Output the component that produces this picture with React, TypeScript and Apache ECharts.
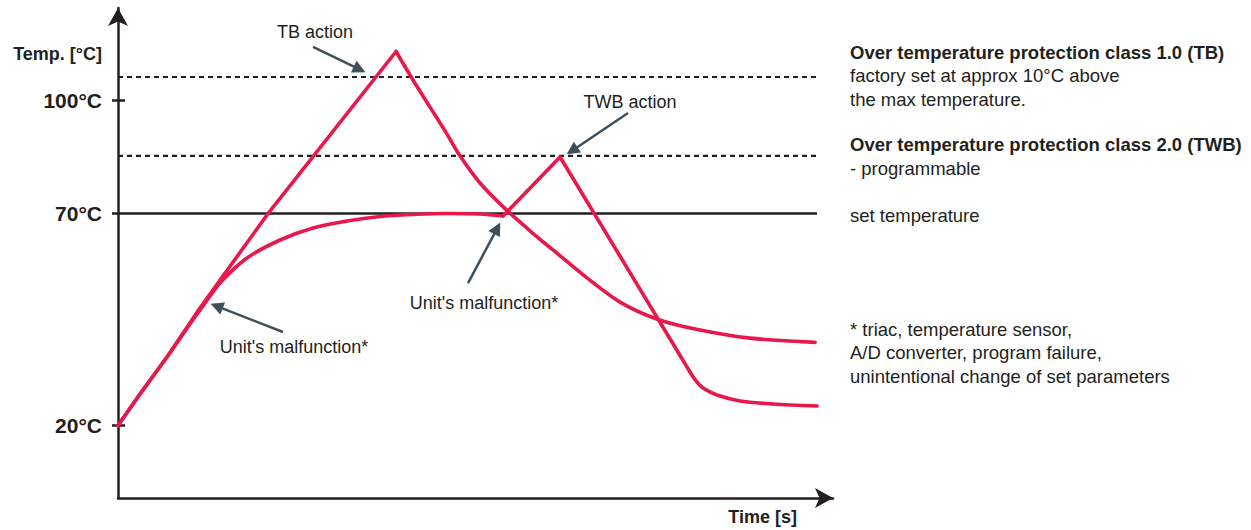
import React, { useEffect, useRef } from "react";
import * as echarts from "echarts";

// ---- data (schematic time units on x, temperature-like units on y) ----
const xMin = 0;
const xMax = 101.27;
const yMin = 2.9;
const yMax = 118.47;

const yTickValues = [20, 70, 96.7];
const yTickLabels = ["20°C", "70°C", "100°C"];
const innerTickValues = [20, 96.7];

const setTemperature = 70;
const tbLimit = 102.2;
const twbLimit = 83.6;
const lineEndX = 99;

// TB path: rise (straight) then cooling after TB action
const tbRise = [
  [0, 20], [3.12, 27.43], [6.94, 36.16], [11.61, 47.71], [21.1, 69.65], [39.38, 108.21],
];
const tbFall = [
  [39.38, 108.21], [41.78, 101.5], [44.19, 95.1], [46.32, 89.5], [48.44, 83.6],
  [51.27, 77.2], [55.24, 70.5], [59.35, 64.5], [61.61, 61.4], [66.43, 54.8],
  [71.1, 49.1], [76.49, 45.0], [82.44, 42.5], [89.52, 40.6], [98.73, 39.6],
];

// TWB path: approach to set temperature, malfunction, TWB action, cooling
const twbApproach = [
  [0, 20], [3.12, 27.43], [6.94, 36.16], [10.2, 43.94], [12.04, 48.18], [14.45, 53.61],
  [18.27, 59.5], [22.95, 63.75], [27.62, 66.58], [32.44, 68.23], [37.11, 69.29],
  [41.78, 69.76], [46.6, 70.0], [51.27, 69.88], [54.53, 69.41],
];
const twbSpike = [[54.53, 69.41], [62.61, 83.33], [81.02, 32.62]];
const twbTail = [
  [81.02, 32.62], [81.87, 30.5], [82.86, 28.84], [84.84, 27.19], [88.1, 25.78],
  [92.78, 25.07], [99.01, 24.6],
];

// annotation arrows: [from, to]
const arrowLines = [
  [[27.62, 109.3], [34.22, 103.98]],
  [[72.24, 93.7], [64.31, 84.82]],
  [[23.37, 42.05], [13.97, 48.14]],
  [[49.58, 53.6], [53.71, 66.51]],
];

const annotationTexts = ["TB action", "TWB action", "Unit's malfunction*", "Unit's malfunction*"];
const sideTexts = [
  "Over temperature protection class 1.0 (TB)",
  "factory set at approx 10°C above",
  "the max temperature.",
  "Over temperature protection class 2.0 (TWB)",
  "- programmable",
  "set temperature",
  "* triac, temperature sensor,",
  "A/D converter, program failure,",
  "unintentional change of set parameters",
];
const yAxisName = "Temp. [°C]";
const xAxisName = "Time [s]";

const RED = "#e8184d";
const INK = "#231f20";
const ARROW = "#3e4f5a";
const FONT = '"Liberation Sans", Arial, sans-serif';

function txt(text: string, x: number, y: number, opts: any = {}) {
  const align = opts.align || "left";
  const weight = opts.bold ? "bold" : "normal";
  const size = opts.size || 18;
  return {
    type: "text",
    x,
    y,
    silent: true,
    style: {
      text,
      fill: opts.color || INK,
      font: `${weight} ${size}px ${FONT}`,
      align,
      textAlign: align,
      verticalAlign: "middle",
      textVerticalAlign: "middle",
    },
  };
}

export default function App() {
  const ref = useRef<HTMLDivElement>(null);

  useEffect(() => {
    if (!ref.current) return;
    const chart = echarts.init(ref.current, undefined, { renderer: "svg" });

    const redLine = (data: number[][], smooth: boolean) => ({
      type: "line",
      data,
      symbol: "none",
      smooth: smooth ? 0.3 : false,
      z: 5,
      lineStyle: { color: RED, width: 3.6, cap: "round", join: "round" },
      itemStyle: { color: RED },
      silent: true,
    });

    const hLine = (y: number, dashed: boolean, width: number) => ({
      type: "line",
      data: [[xMin, y], [lineEndX, y]],
      symbol: "none",
      z: 3,
      lineStyle: { color: INK, width, type: dashed ? [5, 4] : "solid" },
      silent: true,
    });

    const rightX = 850;
    const sideY = [52, 75.5, 99, 144.5, 168, 215, 329, 352.5, 376];
    const sideBold = [true, false, false, true, false, false, false, false, false];

    const option: any = {
      animation: false,
      backgroundColor: "#ffffff",
      textStyle: { fontFamily: FONT },
      grid: { left: 118, right: 418, top: 8, bottom: 32, containLabel: false },
      xAxis: {
        type: "value",
        min: xMin,
        max: xMax,
        axisLine: {
          show: true,
          symbol: ["none", "arrow"],
          symbolSize: [15, 18],
          lineStyle: { color: INK, width: 2.5 },
        },
        axisTick: { show: false },
        axisLabel: { show: false },
        splitLine: { show: false },
      },
      yAxis: [
        {
          type: "value",
          min: yMin,
          max: yMax,
          axisLine: {
            show: true,
            symbol: ["none", "arrow"],
            symbolSize: [15, 18],
            lineStyle: { color: INK, width: 2.5 },
          },
          axisTick: {
            show: true,
            customValues: yTickValues,
            length: 6,
            lineStyle: { color: INK, width: 2.5 },
          },
          axisLabel: {
            show: true,
            customValues: yTickValues,
            formatter: (v: number) => {
              const i = yTickValues.indexOf(v);
              return i >= 0 ? yTickLabels[i] : "";
            },
            margin: 16,
            fontSize: 21,
            fontWeight: "bold",
            color: INK,
            fontFamily: FONT,
          },
          splitLine: { show: false },
        },
        {
          type: "value",
          min: yMin,
          max: yMax,
          position: "left",
          axisLine: { show: false },
          axisTick: {
            show: true,
            inside: true,
            customValues: innerTickValues,
            length: 7,
            lineStyle: { color: INK, width: 2.5 },
          },
          axisLabel: { show: false },
          splitLine: { show: false },
        },
      ],
      series: [
        hLine(setTemperature, false, 2.5),
        hLine(tbLimit, true, 2.2),
        hLine(twbLimit, true, 2.2),
        redLine(twbApproach, true),
        redLine(twbSpike, false),
        redLine(twbTail, true),
        redLine(tbRise, false),
        redLine(tbFall, true),
        {
          type: "lines",
          coordinateSystem: "cartesian2d",
          z: 6,
          symbol: ["none", "triangle"],
          symbolSize: [11, 13],
          silent: true,
          lineStyle: { color: ARROW, width: 2.5, opacity: 1, curveness: 0 },
          itemStyle: { color: ARROW },
          data: arrowLines.map((c) => ({ coords: c })),
        },
      ],
      graphic: [
        txt(yAxisName, 102, 53.5, { align: "right", bold: true }),
        txt(xAxisName, 797, 517, { align: "right", bold: true }),
        txt(annotationTexts[0], 315, 32, { align: "center" }),
        txt(annotationTexts[1], 630, 102, { align: "center" }),
        txt(annotationTexts[2], 294, 347, { align: "center" }),
        txt(annotationTexts[3], 484, 302.5, { align: "center" }),
        ...sideTexts.map((t, i) => txt(t, rightX, sideY[i], { bold: sideBold[i], size: 18.5 })),
      ],
    };

    chart.setOption(option);
    return () => chart.dispose();
  }, []);

  return (
    <div
      ref={ref}
      style={{ position: "absolute", left: 0, top: 0, width: 1251, height: 530, background: "#fff" }}
    />
  );
}
